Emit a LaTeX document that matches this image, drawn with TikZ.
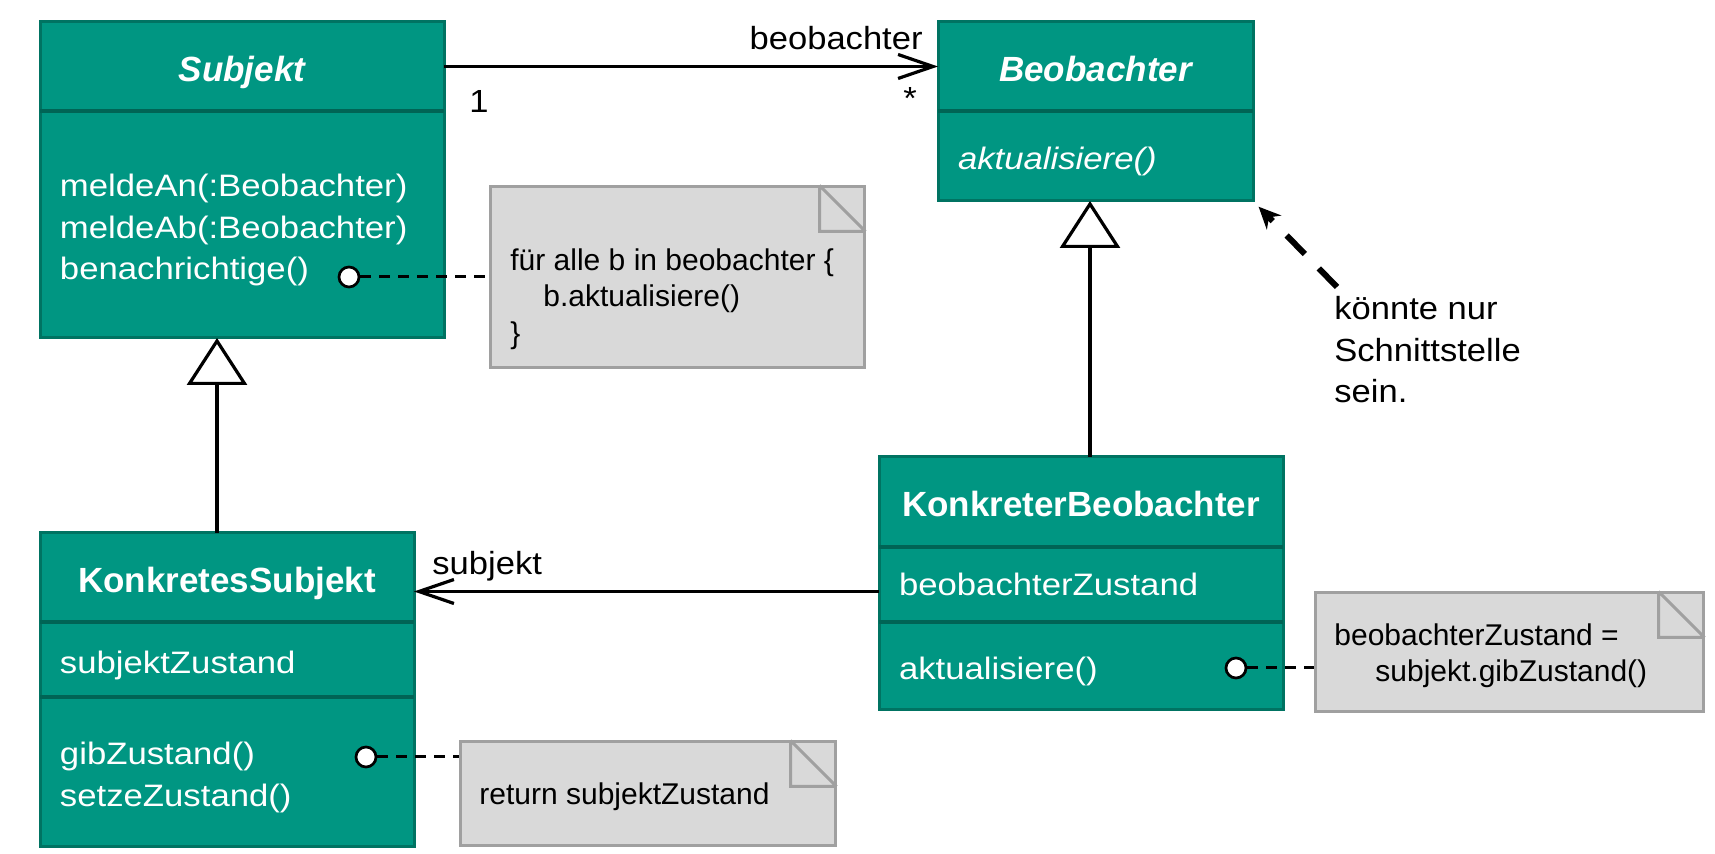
\documentclass[tikz,border=0pt]{standalone}
\usepackage{fontspec}
\setmainfont{Liberation Sans}
\newfontfamily\memberfont{Liberation Sans}[FakeStretch=1.12]
\newfontfamily\labelfont{Liberation Sans}[FakeStretch=1.08]
\usetikzlibrary{%
  calc,arrows.meta,positioning}
\definecolor{kitgreen}{RGB}{0,150,130}
\definecolor{kitdark}{RGB}{0,115,98}
\definecolor{kitline}{RGB}{0,100,85}
\definecolor{notefill}{RGB}{217,217,217}
\definecolor{noteline}{RGB}{160,160,160}
\newcommand\memtop{\rule{0pt}{17pt}}
\tikzset {>=Stealth}
\tikzset{
  compart/.style={draw=kitdark,fill=kitgreen,line width=1.5pt,outer sep=0pt,
    text=white,align=left,inner xsep=10pt,inner ysep=0pt,
    font=\memberfont\fontsize{15.5}{20.85}\selectfont},
  classtitle/.style={compart,align=center,text height=15pt,text depth=0pt,
    font=\bfseries\fontsize{17.5}{21}\selectfont},
  subjw/.style={minimum width=202pt,text width=182pt},
  beow/.style={minimum width=157.5pt,text width=137.5pt},
  ksw/.style={minimum width=187pt,text width=167pt},
  kbw/.style={minimum width=202pt,text width=182pt},
  divider/.style={draw=kitline,line width=2.3pt},
  note/.style={draw=noteline,fill=notefill,line width=1.5pt,inner sep=0pt},
  notedraw/.style={draw=noteline,line width=1.5pt},
  notetext/.style={inner sep=0pt,align=left,
    font=\fontsize{15}{18.35}\selectfont},
  lbl/.style={inner sep=0pt,font=\labelfont\fontsize{16}{20.85}\selectfont},
  port/.style={circle,draw=black,fill=white,line width=1.35pt,
    inner sep=0pt,minimum size=10pt},
  notelink/.style={draw=black,line width=1.5pt,dash pattern=on 5.5pt off 4pt},
  assoc/.style={draw=black,line width=1.6pt,
    -{Straight Barb[length=17.5pt,width=12pt]}},
  inherit/.style={draw=black,line width=1.6pt,
    -{Triangle[open,length=23.5pt,width=30pt]}},
  hintarrow/.style={draw=black,line width=3pt,dash pattern=on 13pt off 10pt,
    -{Stealth[length=11pt,width=10pt]},shorten >=4pt}
}

\begin{document}
\begin{tikzpicture}[x=0.5pt,y=-0.5pt]
\useasboundingbox (0,0) rectangle (1715,854);
% classes
\node[classtitle,subjw,minimum height=44.5pt] (subj-title) at (242,66.5)
  {\itshape Subjekt};
\node[compart,subjw,minimum height=113.5pt,below=0pt of subj-title] (subj-ops)
  {\memtop meldeAn(:Beobachter)\\meldeAb(:Beobachter)\\benachrichtige()};
\node[classtitle,beow,minimum height=44.5pt] (beo-title) at (1095.5,66.5)
  {\itshape Beobachter};
\node[compart,beow,minimum height=45pt,below=0pt of beo-title] (beo-ops)
  {\memtop\itshape aktualisiere()};
\node[classtitle,ksw,minimum height=44.5pt] (ks-title) at (227,577.5)
  {KonkretesSubjekt};
\node[compart,ksw,minimum height=37.5pt,below=0pt of ks-title] (ks-attr)
  {\memtop subjektZustand};
\node[compart,ksw,minimum height=75pt,below=0pt of ks-attr] (ks-ops)
  {\memtop gibZustand()\\setzeZustand()};
\node[classtitle,kbw,minimum height=45pt] (kb-title) at (1081,502)
  {KonkreterBeobachter};
\node[compart,kbw,minimum height=37.5pt,below=0pt of kb-title] (kb-attr)
  {beobachterZustand};
\node[compart,kbw,minimum height=44pt,below=0pt of kb-attr] (kb-ops)
  {\memtop aktualisiere()};
\foreach \a in {subj-title,beo-title,ks-title,ks-attr,kb-title,kb-attr}
  \draw[divider] (\a.south west) -- (\a.south east);
% notes
\node[note,minimum width=187pt,minimum height=90.5pt] (n-benach) at (677,277.5) {};
\node[notetext,anchor=north west] (t-benach) at (510,248)
  {für alle b in beobachter \{\\\hspace*{16.5pt}b.aktualisiere()\\\}};
\node[note,minimum width=187.5pt,minimum height=52pt] (n-gib) at (647.5,794) {};
\node[notetext,anchor=base west] (t-gib) at (479,805) {return subjektZustand};
\node[note,minimum width=194pt,minimum height=59.5pt] (n-akt) at (1509,652.5) {};
\node[notetext,anchor=north west] (t-akt) at (1334,623)
  {beobachterZustand =\\\hspace*{20.5pt}subjekt.gibZustand()};
\foreach \n in {n-benach,n-gib,n-akt}
  \draw[notedraw] ($(\n.north east)+(-46,0)$) |- ($(\n.north east)+(0,46)$)
    ($(\n.north east)+(-46,0)$) -- ($(\n.north east)+(0,46)$);
\node[port] (p-benach) at (349,277) {};
\node[port] (p-gib) at (366,757) {};
\node[port] (p-akt) at (1236,668) {};
\foreach \p/\n in {p-benach/n-benach,p-gib/n-gib,p-akt/n-akt}
  \draw[notelink] (\p) -- (\p -| \n.west);
% associations
\draw[assoc] (subj-title.east) -- (beo-title.west);
\node[lbl,anchor=base east] (r-beo) at ($(beo-title.west)+(-15,-17)$) {beobachter};
\node[lbl,anchor=base west] (m-one) at ($(subj-title.east)+(25,46.5)$) {1};
\node[lbl,anchor=base] (m-star) at ($(beo-title.west)+(-28,43)$) {*};
\coordinate (a-subj) at ($(kb-attr.west)+(0,7)$);
\draw[assoc] (a-subj) -- (a-subj -| ks-title.east);
\node[lbl,anchor=base west] (r-subj) at ($(a-subj -| ks-title.east)+(18,-17)$) {subjekt};
% generalisation
\coordinate (g-subj) at ($(ks-title.north)+(-10,0)$);
\draw[inherit] (g-subj) -- (g-subj |- subj-ops.south);
\coordinate (g-beo) at ($(kb-title.north)+(9,0)$);
\draw[inherit] (g-beo) -- (g-beo |- beo-ops.south);
% hint
\node[lbl,anchor=north west,align=left] (hint) at (1334,296)
  {könnte nur\\Schnittstelle\\sein.};
\draw[hintarrow] ($(hint.north west)+(3,-9)$) -- (beo-ops.south east);
\end{tikzpicture}
\end{document}
